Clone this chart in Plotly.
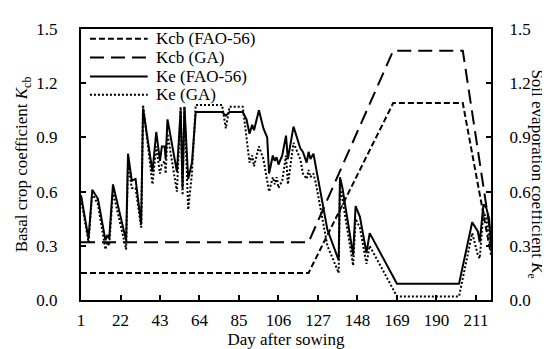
import plotly.graph_objects as go

# Basal crop coefficient (FAO-56 and GA calibrated)
kcb_days = [1, 122, 167, 204, 219]
kcb_fao = [0.15, 0.15, 1.09, 1.09, 0.25]
kcb_ga = [0.32, 0.32, 1.38, 1.38, 0.35]

# Soil evaporation coefficient
ke_days = [1, 5, 7, 10, 14, 15, 16, 18, 25, 26, 28, 30, 33, 34, 39, 41, 43, 44,
           45.5, 46, 47, 52, 54, 55, 56, 58, 60, 62, 76, 78, 80, 87, 89, 90.6, 92,
           93, 95.6, 98, 100, 101, 103, 104, 105, 106, 108, 110, 111, 114, 117.6,
           119, 121, 122, 123, 124.6, 126, 132, 138, 138.7, 140, 145.7, 147, 149.3,
           152.8, 154.5, 169, 190, 202, 209, 212, 213, 215, 216.5, 218, 219]
ke_fao = [0.58, 0.34, 0.61, 0.56, 0.33, 0.36, 0.34, 0.64, 0.33, 0.81, 0.66, 0.67,
          0.42, 1.06, 0.71, 0.93, 0.77, 0.85, 0.85, 0.78, 1.00, 0.71, 1.05, 0.62,
          1.07, 0.67, 0.76, 1.04, 1.04, 1.02, 1.04, 1.04, 1.00, 0.92, 0.97, 0.94,
          1.05, 0.95, 0.90, 0.70, 0.80, 0.77, 0.79, 0.75, 0.80, 0.91, 0.78, 0.96,
          0.84, 0.82, 0.76, 0.82, 0.78, 0.81, 0.73, 0.39, 0.22, 0.68, 0.62, 0.25,
          0.52, 0.46, 0.26, 0.37, 0.09, 0.09, 0.09, 0.43, 0.38, 0.32, 0.53, 0.51,
          0.45, 0.30]
ke_ga = [0.56, 0.32, 0.59, 0.53, 0.28, 0.32, 0.30, 0.60, 0.28, 0.76, 0.62, 0.62,
         0.40, 1.08, 0.64, 0.85, 0.70, 0.75, 0.77, 0.70, 0.92, 0.60, 1.07, 0.58,
         1.07, 0.50, 0.70, 1.08, 1.08, 0.95, 1.07, 1.07, 0.90, 0.76, 0.80, 0.74,
         0.85, 0.78, 0.66, 0.60, 0.68, 0.64, 0.68, 0.62, 0.66, 0.80, 0.64, 0.87,
         0.78, 0.70, 0.67, 0.72, 0.68, 0.70, 0.64, 0.30, 0.15, 0.62, 0.56, 0.19,
         0.45, 0.40, 0.20, 0.30, 0.02, 0.02, 0.02, 0.37, 0.25, 0.23, 0.49, 0.45,
         0.35, 0.27]

x_ticks = [1, 22, 43, 64, 85, 106, 127, 148, 169, 190, 211]
y_ticks = [0.0, 0.3, 0.6, 0.9, 1.2, 1.5]

legend_names = ["Kcb (FAO-56)", "Kcb (GA)", "Ke (FAO-56)", "Ke (GA)"]
legend_dash = ["6px,3px", "14px,7px", "solid", "2px,2px"]

FONT = "Liberation Serif"
FS = 17

fig = go.Figure()
fig.add_trace(go.Scatter(x=kcb_days, y=kcb_fao, mode="lines", name=legend_names[0],
                         line=dict(color="black", width=2, dash=legend_dash[0])))
fig.add_trace(go.Scatter(x=kcb_days, y=kcb_ga, mode="lines", name=legend_names[1],
                         line=dict(color="black", width=2, dash=legend_dash[1])))
fig.add_trace(go.Scatter(x=ke_days, y=ke_fao, mode="lines", name=legend_names[2], yaxis="y2",
                         line=dict(color="black", width=2, dash=legend_dash[2])))
fig.add_trace(go.Scatter(x=ke_days, y=ke_ga, mode="lines", name=legend_names[3], yaxis="y2",
                         line=dict(color="black", width=2, dash=legend_dash[3])))

# hand drawn legend (long sample lines like the original)
L, R, T, B = 71, 483, 12, 292
def px(x):
    return (x - L) / (R - L)
def py(y):
    return (B - y) / (B - T)

rows = [22, 41.5, 61, 80]
for name, dash, yy in zip(legend_names, legend_dash, rows):
    fig.add_shape(type="line", xref="paper", yref="paper",
                  x0=px(80), x1=px(138), y0=py(yy), y1=py(yy),
                  line=dict(color="black", width=2, dash=dash))
    fig.add_annotation(text=name, xref="paper", yref="paper", x=px(144), y=py(yy),
                       xanchor="left", yanchor="middle", showarrow=False,
                       font=dict(family=FONT, size=FS, color="black"))

fig.add_annotation(text="Soil evaporation coefficient <i>K</i><sub>e</sub>",
                   xref="paper", yref="paper", x=px(528), y=py(162), textangle=90,
                   xanchor="center", yanchor="middle",
                   showarrow=False, font=dict(family=FONT, size=FS, color="black"))

axis_common = dict(showline=True, linecolor="black", linewidth=2, ticks="inside",
                   ticklen=5, tickwidth=1.5, tickcolor="black", showgrid=False,
                   zeroline=False, tickfont=dict(family=FONT, size=FS, color="black"))

fig.update_layout(
    width=550, height=349,
    margin=dict(l=L, r=550 - R, t=T, b=349 - B),
    plot_bgcolor="white", paper_bgcolor="white",
    showlegend=False,
    xaxis=dict(range=[1, 219], tickvals=x_ticks, mirror=True,
               title=dict(text="Day after sowing", standoff=0,
                          font=dict(family=FONT, size=FS, color="black")),
               ticklabelstandoff=4, **axis_common),
    yaxis=dict(range=[0, 1.5], tickvals=y_ticks, tickformat=".1f",
               title=dict(text="Basal crop coefficient <i>K</i><sub>cb</sub>", standoff=4,
                          font=dict(family=FONT, size=FS, color="black")),
               ticklabelstandoff=18, **axis_common),
    yaxis2=dict(range=[0, 1.5], tickvals=y_ticks, tickformat=".1f", overlaying="y",
                side="right", ticklabelstandoff=13, **axis_common),
)

fig.write_html("out.html")
